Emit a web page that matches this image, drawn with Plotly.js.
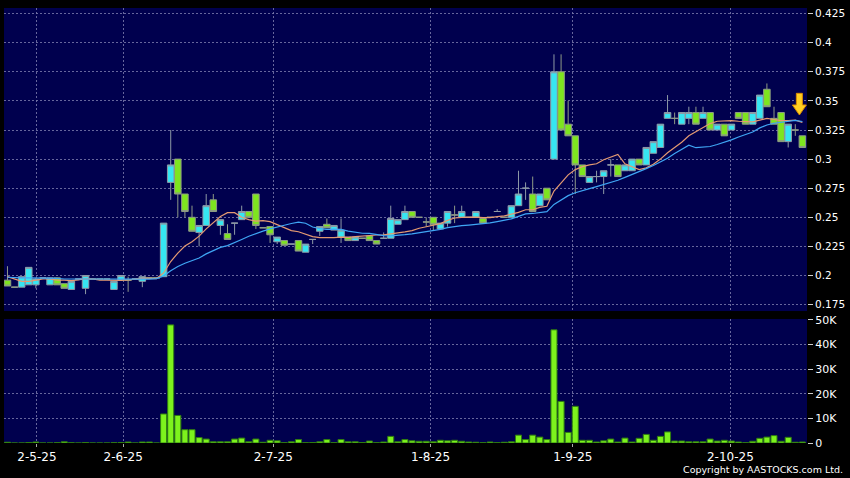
<!DOCTYPE html>
<html>
<head>
<meta charset="utf-8">
<script src="https://cdn.plot.ly/plotly-3.0.1.min.js"></script>
<style>html,body{margin:0;padding:0;background:#000;}#chart{width:850px;height:478px;}</style>
</head>
<body>
<div id="chart"></div>
<script>
// ---- data ----
var openP = [0.196,0.190,0.190,0.192,0.192,0.198,0.192,0.198,0.193,0.188,
0.197,0.189,0.197,0.197,0.197,0.188,0.196,0.196,0.197,0.195,
0.198,0.198,0.199,0.280,0.300,0.270,0.250,0.237,0.243,0.265,
0.243,0.236,0.245,0.248,0.255,0.270,0.241,0.242,0.229,0.230,
0.227,0.230,0.220,0.231,0.238,0.244,0.239,0.233,0.233,0.230,
0.232,0.234,0.230,0.232,0.232,0.244,0.248,0.255,0.250,0.246,
0.250,0.240,0.245,0.252,0.250,0.250,0.250,0.249,0.250,0.255,
0.250,0.250,0.260,0.275,0.270,0.260,0.275,0.300,0.375,0.330,
0.320,0.295,0.280,0.285,0.285,0.295,0.295,0.290,0.290,0.300,
0.295,0.305,0.310,0.335,0.335,0.330,0.335,0.340,0.335,0.340,
0.325,0.330,0.325,0.340,0.340,0.330,0.335,0.360,0.335,0.340,
0.315,0.325,0.320];
var highP = [0.208,0.190,0.199,0.207,0.198,0.198,0.198,0.198,0.193,0.195,
0.197,0.200,0.197,0.197,0.197,0.195,0.200,0.199,0.197,0.199,
0.198,0.198,0.245,0.325,0.300,0.270,0.260,0.243,0.270,0.270,
0.248,0.244,0.245,0.260,0.255,0.270,0.241,0.242,0.233,0.230,
0.227,0.230,0.227,0.231,0.242,0.249,0.243,0.249,0.233,0.233,
0.232,0.234,0.230,0.237,0.260,0.248,0.260,0.255,0.250,0.250,
0.250,0.245,0.255,0.260,0.260,0.250,0.255,0.249,0.250,0.257,
0.250,0.260,0.290,0.280,0.285,0.270,0.275,0.390,0.390,0.350,
0.320,0.295,0.285,0.290,0.290,0.300,0.295,0.295,0.300,0.300,
0.310,0.315,0.330,0.355,0.340,0.340,0.345,0.345,0.345,0.340,
0.330,0.330,0.330,0.340,0.340,0.340,0.355,0.365,0.345,0.340,
0.330,0.330,0.320];
var lowP = [0.191,0.190,0.190,0.192,0.189,0.198,0.192,0.192,0.189,0.188,
0.197,0.184,0.197,0.197,0.197,0.188,0.196,0.186,0.197,0.190,
0.198,0.198,0.199,0.265,0.250,0.250,0.238,0.225,0.243,0.255,
0.235,0.231,0.235,0.248,0.250,0.240,0.241,0.228,0.227,0.226,
0.227,0.221,0.220,0.227,0.234,0.241,0.239,0.228,0.230,0.230,
0.232,0.230,0.227,0.232,0.232,0.244,0.248,0.250,0.250,0.242,
0.239,0.240,0.242,0.245,0.250,0.250,0.250,0.245,0.250,0.255,
0.250,0.250,0.260,0.265,0.255,0.260,0.265,0.300,0.325,0.320,
0.270,0.285,0.280,0.280,0.270,0.285,0.285,0.290,0.290,0.295,
0.295,0.305,0.310,0.335,0.330,0.330,0.330,0.330,0.335,0.325,
0.325,0.320,0.325,0.335,0.330,0.330,0.335,0.345,0.330,0.315,
0.310,0.320,0.310];
var closeP = [0.191,0.190,0.199,0.207,0.197,0.198,0.198,0.192,0.189,0.195,
0.197,0.200,0.197,0.197,0.197,0.195,0.200,0.196,0.197,0.199,
0.198,0.198,0.245,0.295,0.270,0.255,0.238,0.243,0.260,0.255,
0.248,0.231,0.245,0.255,0.250,0.243,0.241,0.235,0.233,0.226,
0.227,0.221,0.227,0.231,0.242,0.241,0.243,0.239,0.230,0.233,
0.232,0.230,0.227,0.232,0.249,0.248,0.255,0.250,0.250,0.246,
0.244,0.245,0.255,0.252,0.255,0.250,0.255,0.245,0.250,0.255,
0.250,0.260,0.270,0.275,0.255,0.270,0.265,0.375,0.325,0.320,
0.295,0.285,0.285,0.285,0.290,0.295,0.285,0.295,0.300,0.295,
0.310,0.315,0.330,0.340,0.335,0.340,0.340,0.330,0.340,0.325,
0.330,0.320,0.330,0.335,0.330,0.340,0.355,0.345,0.330,0.315,
0.330,0.325,0.310];
var ma10 = [0.199,0.197,0.195,0.195,0.196,0.197,0.197,0.196,0.196,0.1956,
0.1962,0.1972,0.1970,0.1960,0.1960,0.1957,0.1959,0.1963,0.1971,0.1975,
0.1976,0.1974,0.2022,0.2120,0.2193,0.2253,0.2291,0.2338,0.2401,0.2457,
0.2507,0.2540,0.2540,0.2500,0.2480,0.2468,0.2471,0.2463,0.2436,0.2407,
0.2386,0.2376,0.2358,0.2334,0.2326,0.2324,0.2326,0.2330,0.2327,0.2334,
0.2339,0.2348,0.2348,0.2349,0.2356,0.2363,0.2375,0.2386,0.2406,0.2419,
0.2431,0.2446,0.2474,0.2494,0.2500,0.2502,0.2502,0.2497,0.2497,0.2506,
0.2512,0.2527,0.2542,0.2565,0.2565,0.2585,0.2595,0.2725,0.2800,0.2865,
0.2910,0.2935,0.2950,0.2960,0.2995,0.3020,0.3040,0.2960,0.2935,0.2910,
0.2925,0.2955,0.3000,0.3055,0.3100,0.3145,0.3200,0.3235,0.3275,0.3305,
0.3325,0.3330,0.3330,0.3325,0.3320,0.3320,0.3335,0.3350,0.3340,0.3330,
0.3330,0.3335,0.3315];
var ma20 = [0.1985,0.198,0.198,0.198,0.198,0.198,0.1975,0.1975,0.197,0.197,
0.197,0.197,0.197,0.197,0.197,0.197,0.197,0.197,0.197,0.1966,
0.1969,0.1973,0.1996,0.2040,0.2077,0.2105,0.2125,0.2151,0.2186,0.2216,
0.2242,0.2257,0.2281,0.2310,0.2337,0.2361,0.2381,0.2401,0.2419,0.2432,
0.2447,0.2458,0.2449,0.2417,0.2403,0.2396,0.2399,0.2397,0.2382,0.2371,
0.2363,0.2362,0.2353,0.2342,0.2341,0.2344,0.2351,0.2358,0.2367,0.2377,
0.2385,0.2397,0.2411,0.2422,0.2428,0.2433,0.2439,0.2442,0.2452,0.2463,
0.2472,0.2487,0.2508,0.2530,0.2533,0.2544,0.2549,0.2611,0.2649,0.2686,
0.2711,0.2731,0.2746,0.2763,0.2780,0.2803,0.2818,0.2843,0.2868,0.2888,
0.2918,0.2945,0.2975,0.3008,0.3048,0.3083,0.3120,0.3098,0.3105,0.3108,
0.3125,0.3143,0.3165,0.3190,0.3210,0.3233,0.3268,0.3293,0.3308,0.3318,
0.3328,0.3333,0.3323];
var volume = [300,0,0,200,400,0,0,100,500,100,
0,200,0,0,0,100,200,400,0,400,
400,0,11800,48000,11200,5400,5400,2200,1600,500,
500,500,1600,2000,500,1600,300,1100,900,100,
500,1400,100,200,500,1400,100,1400,500,500,
200,800,100,400,2700,500,1400,900,700,700,
500,1100,900,1100,700,400,300,100,400,100,
300,500,3200,1400,3200,2400,1400,46000,16900,4300,
14900,1100,1100,400,900,1600,400,2000,400,1900,
3500,1100,2700,4500,800,800,500,500,500,1600,
800,1100,800,400,100,700,1900,2400,3000,700,
2300,300,400];
var tickLabels = ['2-5-25','2-6-25','2-7-25','1-8-25','1-9-25','2-10-25'];
var tickPos = [4.15, 16.3, 37.45, 59.6, 79.65, 101.85];
var volTickVals = [0,10000,20000,30000,40000,50000];
var volTickText = ['0','10K','20K','30K','40K','50K'];

var idx = [];
for (var i = 0; i < closeP.length; i++) idx.push(i);

var FONT = 'DejaVu Sans, Verdana, sans-serif';
var GRID = 'rgba(120,120,170,0.85)';
var GDASH = '2px,2px';

var traces = [
  {type:'candlestick', x:idx, open:openP, high:highP, low:lowP, close:closeP,
   xaxis:'x', yaxis:'y', whiskerwidth:0,
   increasing:{fillcolor:'#36e6f2', line:{color:'#8e9aa6', width:1}},
   decreasing:{fillcolor:'#7ee51f', line:{color:'#8e9a86', width:1}},
   hoverinfo:'skip'},
  {type:'scatter', mode:'lines', x:idx, y:ma10, xaxis:'x', yaxis:'y',
   line:{color:'#e49a72', width:1.2}, hoverinfo:'skip'},
  {type:'scatter', mode:'lines', x:idx, y:ma20, xaxis:'x', yaxis:'y',
   line:{color:'#3fa6f5', width:1.2}, hoverinfo:'skip'},
  {type:'bar', x:idx, y:volume, xaxis:'x2', yaxis:'y2',
   marker:{color:'#7df21d', line:{color:'#2f7d10', width:1}}, hoverinfo:'skip'}
];

var layout = {
  width:850, height:478,
  paper_bgcolor:'#000000', plot_bgcolor:'#00004e',
  margin:{l:4, r:43, t:8, b:35},
  showlegend:false, hovermode:false, bargap:0.15, boxgap:0.08, boxgroupgap:0,
  font:{family:FONT, color:'#ffffff'},
  xaxis:{domain:[0,1], anchor:'y', range:[-0.49,112.65], tickvals:tickPos,
         showticklabels:false, ticks:'', showgrid:true, gridcolor:GRID, griddash:GDASH,
         zeroline:false, showline:false, rangeslider:{visible:false}, fixedrange:true},
  yaxis:{domain:[0.3034,1], anchor:'x', range:[0.1695,0.4298], side:'right',
         tick0:0.175, dtick:0.025, ticks:'outside', ticklen:5, tickcolor:'#cfcfcf',
         tickfont:{family:FONT, size:10.5, color:'#ffffff'},
         showgrid:true, gridcolor:GRID, griddash:GDASH, zeroline:false, showline:false, fixedrange:true},
  xaxis2:{domain:[0,1], anchor:'y2', range:[-0.49,112.65], tickvals:tickPos, ticktext:tickLabels,
          ticks:'outside', ticklen:3, tickcolor:'#aaaaaa',
          tickfont:{family:FONT, size:12, color:'#ffffff'},
          showgrid:true, gridcolor:GRID, griddash:GDASH, zeroline:false, showline:false, fixedrange:true},
  yaxis2:{domain:[0,0.2851], anchor:'x2', range:[0,50407], side:'right',
          tickvals:volTickVals, ticktext:volTickText, ticks:'outside', ticklen:5, tickcolor:'#cfcfcf',
          tickfont:{family:FONT, size:11, color:'#ffffff'},
          showgrid:true, gridcolor:GRID, griddash:GDASH, zeroline:false, showline:false, fixedrange:true},
  shapes:[
    {type:'path', xref:'x', yref:'y',
     path:'M 111.15 0.3565 L 112.0 0.3565 L 112.0 0.3465 L 112.56 0.3465 L 111.58 0.3379 L 110.59 0.3465 L 111.15 0.3465 Z',
     fillcolor:'#ffcf22', line:{color:'#d98a00', width:1}}
  ],
  annotations:[
    {xref:'paper', yref:'paper', x:1.0473, y:-0.062, xanchor:'right', yanchor:'middle',
     text:'Copyright by AASTOCKS.com Ltd.', showarrow:false,
     font:{family:FONT, size:9.5, color:'#ffffff'}}
  ]
};

Plotly.newPlot('chart', traces, layout, {displayModeBar:false, staticPlot:true});
</script>
</body>
</html>
